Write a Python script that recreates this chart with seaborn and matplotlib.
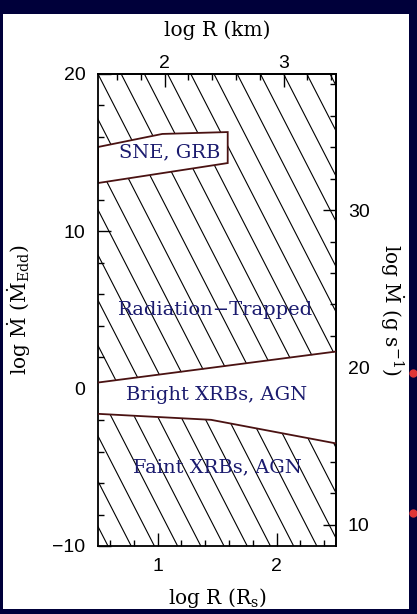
import numpy as np
import matplotlib
matplotlib.use("Agg")
import matplotlib.pyplot as plt
from matplotlib.collections import LineCollection
from matplotlib.patches import Rectangle
from matplotlib.lines import Line2D
from matplotlib.ticker import MultipleLocator
import seaborn as sns

# Regime boundaries: log R in Schwarzschild radii vs log Mdot in Eddington units
trap_x = [0.5, 2.5]
trap_y = [0.39, 2.36]
faint_x = [0.5, 1.45, 2.5]
faint_y = [-1.60, -1.98, -3.48]
trap_at_faint_x = [0.39, 1.33, 2.36]   # photon-trapping line evaluated at faint_x
sne_top_x = [0.5, 1.04, 1.59]
sne_top_y = [15.36, 16.19, 16.31]
sne_bot_x = [0.5, 1.59]
sne_bot_y = [13.07, 14.34]

region_labels = ["SNE, GRB", "Radiation\u2212Trapped", "Bright XRBs, AGN", "Faint XRBs, AGN"]
label_x = [1.10, 1.49, 1.50, 1.50]
label_y = [15.0, 5.0, -0.4, -5.0]

x_ticks = [1, 2]
y_ticks = [-10, 0, 10, 20]
km_ticks = [2, 3]
gs_ticks = [10, 20, 30]
KM_OFFSET = 0.94    # log R(km) - log R(R_s)
GS_OFFSET = 18.65   # log Mdot(g/s) - log Mdot(Edd)

XLIM = (0.5, 2.5)
YLIM = (-10, 20)

# ---- style ----
sns.set_theme(style="ticks")
plt.rcParams["font.family"] = ["Liberation Sans", "DejaVu Sans"]
plt.rcParams["mathtext.fontset"] = "dejavuserif"
plt.rcParams["axes.linewidth"] = 1.3

BG = "#00003a"
INK = "#1a1a6e"
EDGE = "#4a1212"
SERIF = ["DejaVu Serif"]

fig = plt.figure(figsize=(4.17, 6.14), dpi=100, facecolor=BG)
fig.add_artist(Rectangle((3 / 417, 5 / 614), 406 / 417, 595 / 614,
                         transform=fig.transFigure, facecolor="white",
                         edgecolor="none", zorder=0))
for yy in (373, 513):
    fig.add_artist(Line2D([413 / 417], [1 - yy / 614], marker="o", markersize=5,
                          color="#e03535", transform=fig.transFigure, zorder=1))

ax = fig.add_axes([98 / 417, 68 / 614, 238 / 417, 472 / 614])
ax.set_facecolor("white")
ax.set_xlim(*XLIM)
ax.set_ylim(*YLIM)

# diagonal hatching across the plane, later blanked in the unhatched regimes
slope = 14.75          # data-y per data-x of the hatch strokes
step = 0.195           # horizontal spacing of strokes along the top edge
x0s = XLIM[0] + step * np.arange(-11, 12)
drop = (YLIM[1] - YLIM[0]) / slope
segs = [[(x0, YLIM[1]), (x0 + drop, YLIM[0])] for x0 in x0s]
ax.add_collection(LineCollection(segs, colors="black", linewidths=0.8, zorder=1))

# unhatched regimes
ax.fill_between(faint_x, faint_y, trap_at_faint_x, color="white", lw=0, zorder=2)
poly_x = np.r_[sne_top_x, sne_bot_x[::-1]]
poly_y = np.r_[sne_top_y, sne_bot_y[::-1]]
ax.fill(poly_x, poly_y, facecolor="white", edgecolor=EDGE, lw=1.3, zorder=2)

# boundary curves
for bx, by in ((trap_x, trap_y), (faint_x, faint_y)):
    sns.lineplot(x=bx, y=by, ax=ax, color=EDGE, lw=1.3, sort=False, zorder=3)

for t, lx, ly in zip(region_labels, label_x, label_y):
    ax.text(lx, ly, t, ha="center", va="center", color=INK, fontsize=14,
            family=SERIF, zorder=4)

# primary axes: bottom / left
ax.set_xticks(x_ticks)
ax.set_yticks(y_ticks)
ax.xaxis.set_minor_locator(MultipleLocator(0.2))
ax.yaxis.set_minor_locator(MultipleLocator(2))
ax.tick_params(which="both", direction="in", top=False, right=False,
               colors="black", labelsize=14, width=1.0)
ax.tick_params(which="major", length=9.5)
ax.tick_params(which="minor", length=4.3)
ax.tick_params(axis="x", which="major", pad=8.5)
ax.tick_params(axis="y", which="major", pad=9)
for sp in ax.spines.values():
    sp.set_color("black")
    sp.set_linewidth(1.3)

ax.set_xlabel(r"log R (R$_{\rm s}$)", family=SERIF, fontsize=14.5, color="black",
              va="center")
ax.xaxis.set_label_coords(0.5, -0.110)
ax.set_ylabel(r"log $\dot{\rm M}$ ($\dot{\rm M}_{\rm Edd}$)", family=SERIF,
              fontsize=14.5, color="black", va="center", ha="center")
ax.yaxis.set_label_coords(-0.332, 0.5)

# secondary axes: physical units
top = ax.secondary_xaxis("top", functions=(lambda x: x + KM_OFFSET,
                                           lambda x: x - KM_OFFSET))
top.set_xticks(km_ticks)
top.xaxis.set_minor_locator(MultipleLocator(0.2))
top.tick_params(which="both", direction="in", labelsize=14, width=1.0, colors="black")
top.tick_params(which="major", length=9.5, pad=1.5)
top.tick_params(which="minor", length=4.3)

right = ax.secondary_yaxis("right", functions=(lambda y: y + GS_OFFSET,
                                               lambda y: y - GS_OFFSET))
right.set_yticks(gs_ticks)
right.yaxis.set_minor_locator(MultipleLocator(2))
right.tick_params(which="both", direction="in", labelsize=14, width=1.0, colors="black")
right.tick_params(which="major", length=9.5, pad=8.5)
right.tick_params(which="minor", length=4.3)
for s in (top, right):
    for sp in s.spines.values():
        sp.set_linewidth(1.3)
        sp.set_color("black")

# titles of the secondary scales, placed in axes fractions of the main panel
ax.text(0.5, 1.093, "log R (km)", transform=ax.transAxes, ha="center",
        va="center", family=SERIF, fontsize=14.5, color="black")
ax.text(1.235, 0.5, r"log $\dot{\rm M}$ (g s$^{-1}$)", transform=ax.transAxes,
        ha="center", va="center", rotation=270, family=SERIF, fontsize=14.5,
        color="black")

fig.savefig("out.png", dpi=100, facecolor=fig.get_facecolor())
